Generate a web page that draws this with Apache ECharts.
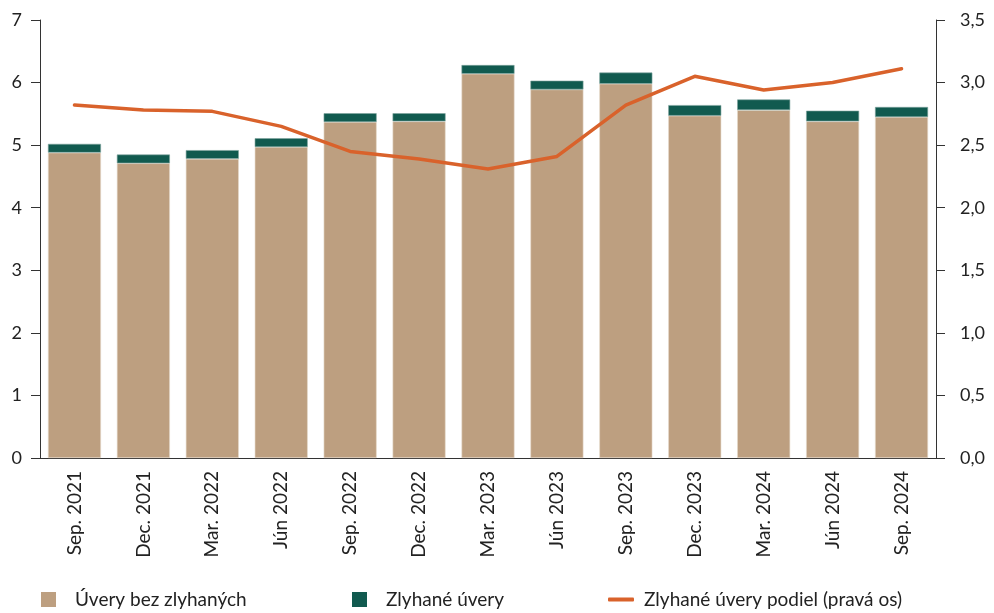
<!DOCTYPE html>
<html>
<head>
<meta charset="utf-8">
<script src="https://cdn.jsdelivr.net/npm/echarts@6/dist/echarts.min.js"></script>
<style>
  html, body { margin: 0; padding: 0; background: #fff; }
  #main { width: 994px; height: 613px; }
</style>
</head>
<body>
<div id="main"></div>
<script>
// kategórie (štvrťroky)
var categories = ['Sep. 2021', 'Dec. 2021', 'Mar. 2022', 'Jún 2022', 'Sep. 2022', 'Dec. 2022',
    'Mar. 2023', 'Jún 2023', 'Sep. 2023', 'Dec. 2023', 'Mar. 2024', 'Jún 2024', 'Sep. 2024'];
// úvery bez zlyhaných
var performing = [4.88, 4.71, 4.78, 4.97, 5.37, 5.38, 6.14, 5.89, 5.98, 5.47, 5.56, 5.38, 5.45];
// zlyhané úvery
var defaulted = [0.14, 0.14, 0.14, 0.14, 0.14, 0.13, 0.14, 0.14, 0.18, 0.17, 0.17, 0.17, 0.16];
// podiel zlyhaných úverov (pravá os)
var share = [2.82, 2.78, 2.77, 2.65, 2.45, 2.39, 2.31, 2.41, 2.82, 3.05, 2.94, 3.00, 3.11];

var names = ['Úvery bez zlyhaných', 'Zlyhané úvery', 'Zlyhané úvery podiel (pravá os)'];
var colTan = '#bd9f80';
var colGreen = '#115a4f';
var colOrange = '#d9622b';
var txt = '#222222';
var axisCol = '#333333';
var font = 'Lato, "Open Sans", sans-serif';

// legenda - jedna položka na pozíciu
function legendItem(name, left, gap, square) {
    return {
        data: [name], left: left, top: 590, padding: 0,
        icon: square ? 'rect' : 'roundRect',
        itemWidth: square ? 15 : 26, itemHeight: square ? 15 : 4,
        itemStyle: { borderWidth: 0 },
        formatter: function (n) { return '{a|' + n + '}'; },
        textStyle: {
            fontSize: 19,
            rich: { a: { fontSize: 19, color: txt, fontFamily: font, padding: [0, 0, 0, gap] } }
        }
    };
}

var myChart = echarts.init(document.getElementById('main'));
var option = {
    animation: false,
    textStyle: { fontFamily: font, color: txt },
    grid: { left: 40, right: 58, top: 20, bottom: 155 },
    legend: [
        legendItem(names[0], 41, 14, true),
        legendItem(names[1], 352, 14, true),
        legendItem(names[2], 608, 5, false)
    ],
    xAxis: {
        type: 'category',
        data: categories,
        axisLine: { lineStyle: { color: axisCol, width: 1 } },
        axisTick: { length: 8, lineStyle: { color: axisCol } },
        axisLabel: { rotate: 90, fontSize: 19, color: txt, margin: 13, fontFamily: font }
    },
    yAxis: [
        {
            type: 'value', min: 0, max: 7, interval: 1,
            splitLine: { show: false },
            axisLine: { show: true, lineStyle: { color: axisCol } },
            axisTick: { show: true, length: 9, lineStyle: { color: axisCol } },
            axisLabel: { fontSize: 18, color: txt, margin: 18, fontFamily: font }
        },
        {
            type: 'value', min: 0, max: 3.5, interval: 0.5,
            position: 'right',
            splitLine: { show: false },
            axisLine: { show: true, lineStyle: { color: axisCol } },
            axisTick: { show: true, length: 9, lineStyle: { color: axisCol } },
            axisLabel: {
                fontSize: 18, color: txt, margin: 24, fontFamily: font,
                formatter: function (v) { return v.toFixed(1).replace('.', ','); }
            }
        }
    ],
    series: [
        {
            name: names[0], type: 'bar', stack: 'uvery', data: performing,
            barWidth: 53,
            itemStyle: { color: colTan, borderColor: '#e6dacb', borderWidth: 0.6 }
        },
        {
            name: names[1], type: 'bar', stack: 'uvery', data: defaulted,
            barWidth: 53,
            itemStyle: { color: colGreen, borderColor: '#7fa59d', borderWidth: 0.6 }
        },
        {
            name: names[2], type: 'line', yAxisIndex: 1, data: share,
            symbol: 'none',
            lineStyle: { color: colOrange, width: 3.5, cap: 'round', join: 'round' },
            itemStyle: { color: colOrange }
        }
    ]
};
myChart.setOption(option);
</script>
</body>
</html>
